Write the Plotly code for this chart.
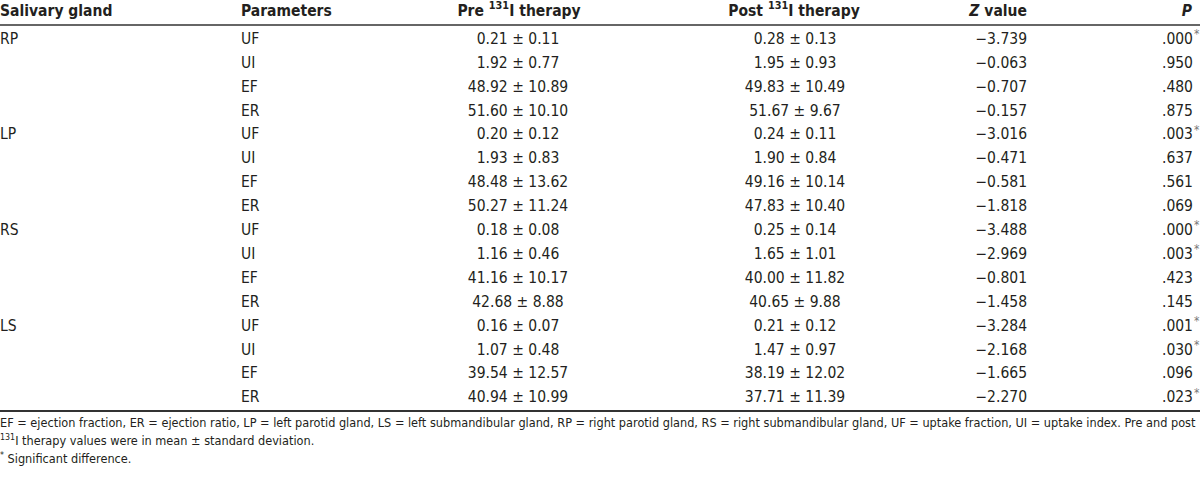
import plotly.graph_objects as go

glands = ["RP", "LP", "RS", "LS"]
params = ["UF", "UI", "EF", "ER"] * 4
pre = ["0.21 ± 0.11", "1.92 ± 0.77", "48.92 ± 10.89", "51.60 ± 10.10",
       "0.20 ± 0.12", "1.93 ± 0.83", "48.48 ± 13.62", "50.27 ± 11.24",
       "0.18 ± 0.08", "1.16 ± 0.46", "41.16 ± 10.17", "42.68 ± 8.88",
       "0.16 ± 0.07", "1.07 ± 0.48", "39.54 ± 12.57", "40.94 ± 10.99"]
post = ["0.28 ± 0.13", "1.95 ± 0.93", "49.83 ± 10.49", "51.67 ± 9.67",
        "0.24 ± 0.11", "1.90 ± 0.84", "49.16 ± 10.14", "47.83 ± 10.40",
        "0.25 ± 0.14", "1.65 ± 1.01", "40.00 ± 11.82", "40.65 ± 9.88",
        "0.21 ± 0.12", "1.47 ± 0.97", "38.19 ± 12.02", "37.71 ± 11.39"]
z_values = ["−3.739", "−0.063", "−0.707", "−0.157",
            "−3.016", "−0.471", "−0.581", "−1.818",
            "−3.488", "−2.969", "−0.801", "−1.458",
            "−3.284", "−2.168", "−1.665", "−2.270"]
p_values = [".000", ".950", ".480", ".875",
            ".003", ".637", ".561", ".069",
            ".000", ".003", ".423", ".145",
            ".001", ".030", ".096", ".023"]
significant = [True, False, False, False,
               True, False, False, False,
               True, True, False, False,
               True, True, False, True]
headers = ["Salivary gland", "Parameters", "Pre <sup>131</sup>I therapy",
           "Post <sup>131</sup>I therapy", "<i>Z</i> value", "<i>P</i>"]
footnotes = [
    "EF = ejection fraction, ER = ejection ratio, LP = left parotid gland, LS = left submandibular gland, "
    "RP = right parotid gland, RS = right submandibular gland, UF = uptake fraction, UI = uptake index. Pre and post",
    "<sup>131</sup>I therapy values were in mean ± standard deviation.",
    "<sup>*</sup> Significant difference.",
]

FONT = "Liberation Sans Narrow, Arial Narrow, DejaVu Sans Condensed, sans-serif"
TXT = "#231f20"
BODY = 15.5
ROW0, DY = 40, 23.9
rows = [ROW0 + DY * i for i in range(len(params))]

fig = go.Figure()


def col(x, texts, pos, size=BODY, ys=None, color=TXT):
    ys = rows if ys is None else ys
    fig.add_trace(go.Scatter(
        x=[x] * len(texts), y=ys, text=texts, mode="text",
        textposition=pos, textfont=dict(family=FONT, size=size, color=color),
        hoverinfo="skip", showlegend=False, cliponaxis=False))


# header
hx = [(0, "middle right"), (241, "middle right"), (519, "middle center"),
      (794, "middle center"), (1027, "middle left"), (1192, "middle left")]
for (x, pos), h in zip(hx, headers):
    col(x, ["<b>" + h + "</b>"], pos, size=15.5, ys=[12])

col(0, glands, "middle right", ys=rows[::4])
col(241, params, "middle right")
col(518, pre, "middle center")
col(795, post, "middle center")
col(1027, z_values, "middle left")
col(1193, p_values, "middle left")

# significance markers
for r, s in zip(rows, significant):
    if s:
        fig.add_annotation(x=1193, y=r - 6, text="*", showarrow=False,
                           xanchor="left", yanchor="middle", xshift=-1,
                           font=dict(family=FONT, size=12, color="#777"))

# footnotes
col(0, footnotes, "middle right", size=12.6, ys=[424, 442, 460])

fig.add_shape(type="line", x0=0, x1=1200, y0=25, y1=25, line=dict(color="#333", width=1.5))
fig.add_shape(type="line", x0=0, x1=1200, y0=411, y1=411, line=dict(color="#333", width=2))

fig.update_layout(
    width=1200, height=490, margin=dict(l=0, r=0, t=0, b=0),
    paper_bgcolor="white", plot_bgcolor="white",
    xaxis=dict(range=[0, 1200], visible=False, fixedrange=True),
    yaxis=dict(range=[490, 0], visible=False, fixedrange=True),
)
fig.write_html("out.html", config={"displayModeBar": False},
               post_script="document.body.style.margin='0';document.body.style.overflow='hidden';")
